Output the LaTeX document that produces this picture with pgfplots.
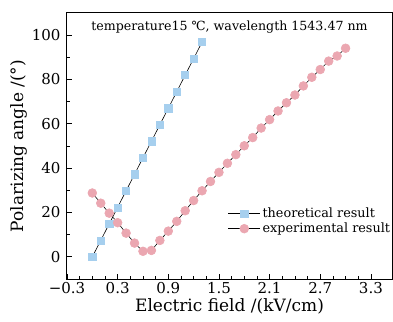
\documentclass[border=0pt]{standalone}
\usepackage{fontspec}
\setmainfont{DejaVu Serif}
\usepackage{pgfplots}
\pgfplotsset{compat=1.18}
\definecolor{sqblue}{HTML}{A6CFEE}
\definecolor{cpink}{HTML}{EBA7B1}
\begin{document}
\begin{tikzpicture}
\begin{axis}[
  name=ax,
  scale only axis,
  width=325pt, height=266pt,
  xmin=-0.3, xmax=3.55,
  ymin=-10, ymax=110,
  xtick={-0.3,0.3,0.9,1.5,2.1,2.7,3.3},
  xticklabels={−0.3,0.3,0.9,1.5,2.1,2.7,3.3},
  minor x tick num=3,
  ytick={0,20,40,60,80,100},
  minor y tick num=1,
  tick pos=left,
  tick align=inside,
  major tick length=5pt,
  minor tick length=3pt,
  axis line style={line width=1pt},
  every tick/.style={black, line width=0.8pt},
  /pgf/number format/assume math mode=true,
  ticklabel style={font=\fontsize{15}{17}\selectfont},
  yticklabel style={xshift=-3pt},
  xticklabel style={yshift=0pt},
  xlabel={Electric field /(kV/cm)},
  ylabel={Polarizing angle /(°)},
  label style={font=\fontsize{17}{19}\selectfont},
  xlabel style={yshift=2.5pt},
  ylabel style={yshift=-2pt},
  legend style={draw=none, fill=none, at={(1.0,0.275)}, anchor=north east,
    font=\fontsize{12.8}{14}\selectfont, row sep=0pt,
    legend cell align=left, inner sep=0pt, outer sep=0pt},
  legend image code/.code={
    \draw[black, line width=0.6pt] (0pt,0pt) -- (32pt,0pt);
    \draw plot coordinates {(16pt,0pt)};
  },
]
\addplot[black, line width=0.6pt, mark=square*, mark size=3.6pt,
  mark options={draw=sqblue, fill=sqblue}] coordinates {
(0.0,0) (0.1,7.4) (0.2,14.9) (0.3,22.3) (0.4,29.8) (0.5,37.2) (0.6,44.7)
(0.7,52.1) (0.8,59.6) (0.9,67.0) (1.0,74.5) (1.1,82.0) (1.2,89.4) (1.3,96.9)
};
\addlegendentry{theoretical result}
\addplot[black, line width=0.6pt, mark=*, mark size=4.4pt,
  mark options={draw=cpink, fill=cpink}] coordinates {
(0.0,28.8) (0.1,24.2) (0.2,19.7) (0.3,15.4) (0.4,10.7) (0.5,6.2) (0.6,2.5)
(0.7,2.9) (0.8,7.4) (0.9,11.6) (1.0,16.0) (1.1,20.8) (1.2,25.4) (1.3,29.8)
(1.4,34.0) (1.5,38.1) (1.6,42.2) (1.7,46.1) (1.8,50.1) (1.9,53.8) (2.0,58.1)
(2.1,61.9) (2.2,65.8) (2.3,69.5) (2.4,73.0) (2.5,77.1) (2.6,81.0) (2.7,84.5)
(2.8,88.3) (2.9,90.6) (3.0,94.1)
};
\addlegendentry{experimental result}
\node[anchor=north, font=\fontsize{12.6}{13}\selectfont] at (axis description cs:0.5,0.985)
  {temperature15 ℃, wavelength 1543.47 nm};
\end{axis}
\pgfresetboundingbox
\path[use as bounding box] ([shift={(-67pt,-42pt)}]ax.south west) rectangle ([shift={(1pt,13pt)}]ax.north east);
\end{tikzpicture}
\end{document}
